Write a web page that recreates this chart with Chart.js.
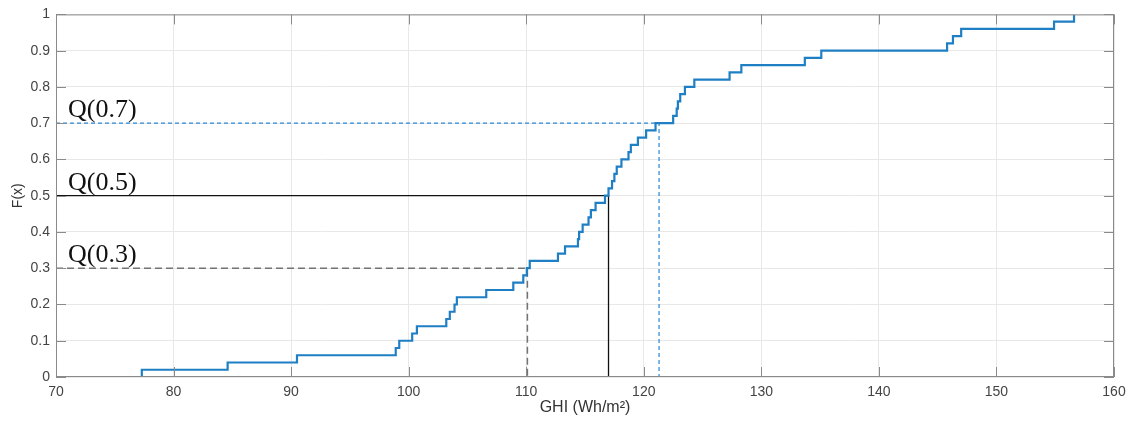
<!DOCTYPE html>
<html>
<head>
<meta charset="utf-8">
<script src="https://cdn.jsdelivr.net/npm/chart.js@4/dist/chart.umd.min.js"></script>
<style>
  html, body { margin: 0; padding: 0; background: #fff; }
  #wrap { width: 1133px; height: 423px; }
</style>
</head>
<body>
<div id="wrap"><canvas id="Chart"></canvas></div>
<script>
// empirical CDF: x where F(x) jumps, and the value after the jump
const ghiSteps = [77.3, 84.6, 90.5, 98.9, 99.2, 100.3, 100.7, 103.2, 103.5, 103.9,
  104.1, 106.6, 108.9, 109.75, 110.05, 110.3, 112.7, 113.3, 114.4, 114.5,
  114.8, 115.3, 115.5, 115.9, 116.7, 117.0, 117.3, 117.5, 117.7, 118.1,
  118.7, 118.9, 119.5, 120.2, 121.0, 122.5, 122.8, 122.9, 123.1, 123.5,
  124.3, 127.3, 128.3, 133.7, 135.1, 145.8, 146.3, 147.0, 154.9, 156.6];
const cdfValues = [0.02, 0.04, 0.06, 0.08, 0.10, 0.12, 0.14, 0.16, 0.18, 0.20,
  0.22, 0.24, 0.26, 0.28, 0.30, 0.32, 0.34, 0.36, 0.38, 0.40,
  0.42, 0.44, 0.46, 0.48, 0.50, 0.52, 0.54, 0.56, 0.58, 0.60,
  0.62, 0.64, 0.66, 0.68, 0.70, 0.72, 0.74, 0.76, 0.78, 0.80,
  0.82, 0.84, 0.86, 0.88, 0.90, 0.92, 0.94, 0.96, 0.98, 1.00];

// quantiles marked on the plot
const quantileLevels = [0.7, 0.5, 0.3];
const quantileGhi = [121.3, 117.0, 110.1];
const quantileLabels = ['Q(0.7)', 'Q(0.5)', 'Q(0.3)'];

const xTickLabels = ['70', '80', '90', '100', '110', '120', '130', '140', '150', '160'];
const yTickLabels = ['0', '0.1', '0.2', '0.3', '0.4', '0.5', '0.6', '0.7', '0.8', '0.9', '1'];

const X_MIN = 70, X_MAX = 160;

const cdfPoints = [{ x: ghiSteps[0], y: 0 }].concat(
  ghiSteps.map((g, i) => ({ x: g, y: cdfValues[i] }))
);

const qStyles = [
  { color: '#2a86d4', width: 1.2, dash: [4, 3] },
  { color: '#111111', width: 1.3, dash: [] },
  { color: '#737373', width: 1.5, dash: [7, 4] }
];

const quantileSets = quantileLevels.map((q, i) => ({
  data: [{ x: X_MIN, y: q }, { x: quantileGhi[i], y: q }, { x: quantileGhi[i], y: 0 }],
  borderColor: qStyles[i].color,
  borderWidth: qStyles[i].width,
  borderDash: qStyles[i].dash,
  pointRadius: 0,
  fill: false,
  tension: 0
}));

const axisFont = '"Liberation Sans", Arial, sans-serif';

// MATLAB style box with inward ticks, plus the Q labels
const boxPlugin = {
  id: 'box',
  afterDatasetsDraw(chart) {
    const { ctx, chartArea: a, scales: { x, y } } = chart;
    ctx.save();
    ctx.strokeStyle = '#8a8a8a';
    ctx.lineWidth = 1;
    ctx.strokeRect(a.left + 0.5, a.top + 0.5, a.right - a.left - 1, a.bottom - a.top - 1);
    ctx.beginPath();
    x.ticks.forEach(t => {
      const px = Math.round(x.getPixelForValue(t.value)) + 0.5;
      ctx.moveTo(px, a.bottom); ctx.lineTo(px, a.bottom - 10);
      ctx.moveTo(px, a.top); ctx.lineTo(px, a.top + 10);
    });
    y.ticks.forEach(t => {
      const py = Math.round(y.getPixelForValue(t.value)) + 0.5;
      ctx.moveTo(a.left, py); ctx.lineTo(a.left + 10, py);
      ctx.moveTo(a.right, py); ctx.lineTo(a.right - 10, py);
    });
    ctx.stroke();

    ctx.fillStyle = '#111';
    ctx.font = '26px "Liberation Serif", "DejaVu Serif", serif';
    ctx.textBaseline = 'alphabetic';
    ctx.textAlign = 'left';
    quantileLevels.forEach((q, i) => {
      ctx.fillText(quantileLabels[i], x.getPixelForValue(X_MIN) + 12, y.getPixelForValue(q) - 6);
    });
    ctx.restore();
  }
};

new Chart('Chart', {
  type: 'line',
  data: {
    datasets: [{
      data: cdfPoints,
      borderColor: '#1f7fc4',
      borderWidth: 2.2,
      stepped: 'before',
      pointRadius: 0,
      fill: false
    }].concat(quantileSets)
  },
  options: {
    responsive: true,
    maintainAspectRatio: false,
    animation: false,
    layout: { padding: { top: 14, right: 19, left: 0, bottom: 0 } },
    plugins: { legend: { display: false }, tooltip: { enabled: false } },
    scales: {
      x: {
        type: 'linear',
        min: X_MIN,
        max: X_MAX,
        afterFit: s => { s.height = 46; },
        grid: { color: '#e8e8e8', drawTicks: false },
        border: { display: false },
        ticks: {
          stepSize: 10,
          padding: 7,
          color: '#444',
          font: { family: axisFont, size: 14 },
          callback: (v, i) => xTickLabels[i]
        },
        title: {
          display: true,
          text: 'GHI (Wh/m²)',
          color: '#333',
          padding: { top: 6, bottom: 6 },
          font: { family: axisFont, size: 16 }
        }
      },
      y: {
        min: 0,
        max: 1,
        afterFit: s => { s.width = 56; },
        grid: { color: '#e8e8e8', drawTicks: false },
        border: { display: false },
        ticks: {
          stepSize: 0.1,
          padding: 6,
          color: '#444',
          font: { family: axisFont, size: 14 },
          callback: (v, i) => yTickLabels[i]
        },
        title: {
          display: true,
          text: 'F(x)',
          color: '#333',
          padding: { top: 10, bottom: 0 },
          font: { family: axisFont, size: 14 }
        }
      }
    }
  },
  plugins: [boxPlugin]
});
</script>
</body>
</html>
